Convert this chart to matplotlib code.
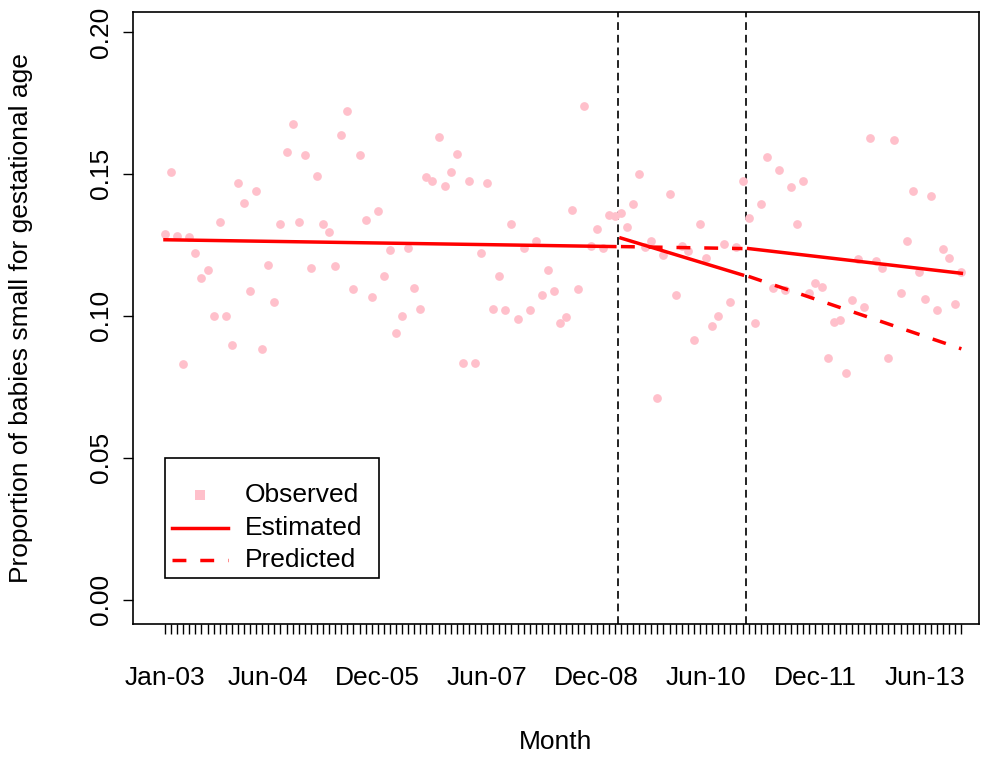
import matplotlib
matplotlib.use("Agg")
import matplotlib.pyplot as plt
from matplotlib.patches import Rectangle

plt.rcParams["font.family"] = ["Liberation Sans", "DejaVu Sans"]

# Monthly proportion of babies small for gestational age, Jan-03 .. Dec-13
observed = [
    0.1290, 0.1508, 0.1282, 0.0829, 0.1277, 0.1222, 0.1135, 0.1163, 0.1001, 0.1331,
    0.1001, 0.0898, 0.1469, 0.1398, 0.1086, 0.1440, 0.0884, 0.1180, 0.1049, 0.1325,
    0.1576, 0.1674, 0.1331, 0.1565, 0.1169, 0.1492, 0.1325, 0.1295, 0.1175, 0.1637,
    0.1723, 0.1093, 0.1565, 0.1338, 0.1068, 0.1369, 0.1141, 0.1232, 0.0940, 0.1001,
    0.1238, 0.1099, 0.1025, 0.1488, 0.1475, 0.1631, 0.1459, 0.1508, 0.1570, 0.0835,
    0.1475, 0.0835, 0.1221, 0.1469, 0.1025, 0.1141, 0.1019, 0.1325, 0.0988, 0.1238,
    0.1019, 0.1264, 0.1074, 0.1163, 0.1086, 0.0976, 0.0995, 0.1373, 0.1093, 0.1740,
    0.1245, 0.1307, 0.1239, 0.1356, 0.1350, 0.1362, 0.1312, 0.1393, 0.1498, 0.1241,
    0.1262, 0.0712, 0.1215, 0.1430, 0.1074, 0.1246, 0.1229, 0.0915, 0.1325, 0.1204,
    0.0965, 0.1001, 0.1252, 0.1049, 0.1241, 0.1474, 0.1343, 0.0975, 0.1393, 0.1559,
    0.1097, 0.1515, 0.1092, 0.1453, 0.1325, 0.1475, 0.1080, 0.1117, 0.1103, 0.0851,
    0.0977, 0.0984, 0.0798, 0.1056, 0.1200, 0.1032, 0.1626, 0.1194, 0.1168, 0.0851,
    0.1619, 0.1080, 0.1264, 0.1441, 0.1156, 0.1061, 0.1423, 0.1019, 0.1234, 0.1203,
    0.1043, 0.1156,
]
months = list(range(len(observed)))

# Segmented-regression fits (month index, fitted value at segment ends)
est_pre_x, est_pre_y = [0, 74], [0.1268, 0.1244]
est_mid_x, est_mid_y = [75, 95], [0.1274, 0.1144]
est_post_x, est_post_y = [96, 131], [0.1237, 0.1150]
pred_mid_x, pred_mid_y = [75, 95], [0.1244, 0.1237]
pred_post_x, pred_post_y = [96, 131], [0.1139, 0.0884]

# Intervention boundaries (between months)
breaks = [74.5, 95.5]

tick_pos = [0, 17, 35, 53, 71, 89, 107, 125]
tick_lab = ["Jan-03", "Jun-04", "Dec-05", "Jun-07", "Dec-08", "Jun-10", "Dec-11", "Jun-13"]
yticks = [0.00, 0.05, 0.10, 0.15, 0.20]
legend_labels = ["Observed", "Estimated", "Predicted"]

pink = "#FFC0CB"
red = "#FF0000"
fs = 19

fig = plt.figure(figsize=(9.95, 7.57), dpi=100)
ax = fig.add_axes([133 / 995, 1 - 624 / 757, (979 - 133) / 995, (624 - 12) / 757])

ax.plot(months, observed, "o", color=pink, markersize=6.3, markeredgewidth=0, zorder=2)

lw = 2.5
dash = (0, (4.0, 4.0))
ax.plot(est_pre_x, est_pre_y, color=red, lw=lw, zorder=3)
ax.plot(est_mid_x, est_mid_y, color=red, lw=lw, zorder=3)
ax.plot(est_post_x, est_post_y, color=red, lw=lw, zorder=3)
ax.plot(pred_mid_x, pred_mid_y, color=red, lw=lw, ls=dash, zorder=3)
ax.plot(pred_post_x, pred_post_y, color=red, lw=lw, ls=dash, zorder=3)

for b in breaks:
    ax.axvline(b, color="#222222", lw=1.4, ls=(0, (4, 2.5)), zorder=1)

ax.set_xlim(-5.26, 133.9)
ax.set_ylim(-0.0085, 0.207)

# one tick per month, labels only where they fit
ax.set_xticks(months)
ax.set_xticklabels([""] * len(months))
ax.tick_params(axis="x", length=7.5, width=1.0)
for p, lab in zip(tick_pos, tick_lab):
    ax.annotate(lab, xy=(p, 0), xycoords=("data", "axes fraction"),
                xytext=(0, -30.5), textcoords="offset points",
                ha="center", va="top", fontsize=fs, annotation_clip=False)

ax.set_yticks(yticks)
ax.set_yticklabels(["0.00", "0.05", "0.10", "0.15", "0.20"], fontsize=fs, rotation=90, va="center")
ax.tick_params(axis="y", length=7.5, width=1.0, pad=7)

for s in ax.spines.values():
    s.set_linewidth(1.2)
    s.set_color("black")

ax.set_xlabel("Month", fontsize=fs, labelpad=65)
ax.set_ylabel("Proportion of babies small for gestational age", fontsize=fs, labelpad=40)

# legend box drawn in axes coordinates
tr = ax.transAxes
ax.add_patch(Rectangle((0.0378, 0.0752), 0.2530, 0.1960, transform=tr, fill=True,
                       facecolor="white", edgecolor="black", lw=1.2, zorder=5))
rows = [0.2107, 0.1568, 0.1045]
hx0, hx1, tx = 0.0461, 0.1123, 0.1324
ax.plot([(hx0 + hx1) / 2], [rows[0]], "s", color=pink, markersize=6.5,
        markeredgewidth=0, transform=tr, zorder=6)
ax.plot([hx0, hx1], [rows[1]] * 2, color=red, lw=lw, transform=tr, zorder=6)
ax.plot([hx0, hx1], [rows[2]] * 2, color=red, lw=lw, ls=dash, transform=tr, zorder=6)
for r, lab in zip(rows, legend_labels):
    ax.text(tx, r, lab, transform=tr, fontsize=fs, ha="left", va="center", zorder=6)

fig.savefig("out.png", dpi=100)
